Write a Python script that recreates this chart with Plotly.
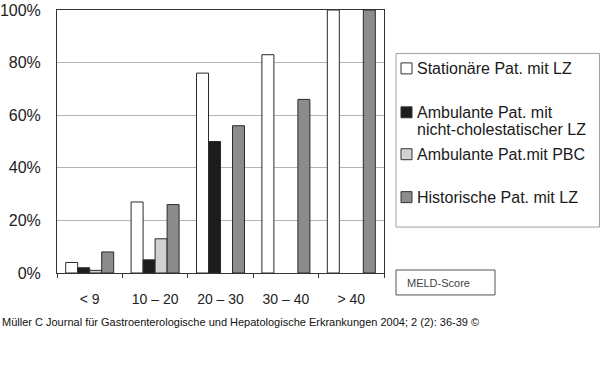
import plotly.graph_objects as go

categories = ["< 9", "10 – 20", "20 – 30", "30 – 40", "> 40"]
series_names = [
    "Stationäre Pat. mit LZ",
    "Ambulante Pat. mit\nnicht-cholestatischer LZ",
    "Ambulante Pat.mit PBC",
    "Historische Pat. mit LZ",
]
stationaer = [4, 27, 76, 83, 100]
ambulant_nc = [2, 5, 50, None, None]
ambulant_pbc = [1, 13, None, None, None]
historisch = [8, 26, 56, 66, 100]
series_values = [stationaer, ambulant_nc, ambulant_pbc, historisch]
colors = ["#ffffff", "#1c1c1c", "#d2d2d2", "#8c8c8c"]
y_ticks = [0, 20, 40, 60, 80, 100]
footer = "Müller C Journal für Gastroenterologische und Hepatologische Erkrankungen 2004; 2 (2): 36-39 ©"
axis_title = "MELD-Score"

W, H = 600, 369
L, R, T, B = 57, 384, 9.5, 273
FONT = "Liberation Sans, Arial, sans-serif"


def px(x):
    return (x - L) / (R - L)


def py(y):
    return (B - y) / (B - T)


fig = go.Figure()
for name, vals, col in zip(series_names, series_values, colors):
    fig.add_trace(go.Bar(
        x=categories, y=vals, name=name.replace("\n", " "),
        marker=dict(color=col, line=dict(color="#2a2a2a", width=1)),
        showlegend=False,
    ))

shapes = []
annotations = []

# legend box
shapes.append(dict(type="rect", xref="paper", yref="paper",
                   x0=px(396), x1=px(599.5), y0=py(53), y1=py(227),
                   line=dict(color="#a0a0a0", width=1), fillcolor="white", layer="below"))
item_y = [68, 112, 154, 197]
for name, col, yc in zip(series_names, colors, item_y):
    shapes.append(dict(type="rect", xref="paper", yref="paper",
                       x0=px(401), x1=px(412), y0=py(yc - 5.5), y1=py(yc + 5.5),
                       line=dict(color="#333333", width=1), fillcolor=col))
    for i, line in enumerate(name.split("\n")):
        annotations.append(dict(xref="paper", yref="paper", x=px(415), y=py(yc + i * 17),
                                xanchor="left", yanchor="middle", showarrow=False,
                                text=line, font=dict(family=FONT, size=16, color="#1a1a1a")))

# MELD-Score box
shapes.append(dict(type="rect", xref="paper", yref="paper",
                   x0=px(396), x1=px(495), y0=py(270), y1=py(295),
                   line=dict(color="#555555", width=1), fillcolor="white"))
annotations.append(dict(xref="paper", yref="paper", x=px(405), y=py(283),
                        xanchor="left", yanchor="middle", showarrow=False,
                        text=axis_title, font=dict(family=FONT, size=11, color="#444444")))

# footer
annotations.append(dict(xref="paper", yref="paper", x=px(0), y=py(322),
                        xanchor="left", yanchor="middle", showarrow=False,
                        text=footer, font=dict(family=FONT, size=11, color="#111111")))

fig.update_layout(
    width=W, height=H,
    margin=dict(l=L, r=W - R, t=T, b=H - B, pad=0, autoexpand=False),
    paper_bgcolor="white", plot_bgcolor="white",
    barmode="group", bargap=0.266, bargroupgap=0,
    shapes=shapes, annotations=annotations,
    font=dict(family=FONT, color="#222222"),
)
fig.update_xaxes(
    type="category", tickson="boundaries", ticks="outside", ticklen=4,
    tickcolor="#333333", showline=True, mirror=True, linecolor="#333333", linewidth=1,
    showgrid=False, tickfont=dict(size=14, color="#222222"), ticklabelstandoff=13,
    automargin=False,
)
fig.update_yaxes(
    range=[0, 100], tickvals=y_ticks, ticktext=[f"{v}%" for v in y_ticks],
    showline=True, mirror=True, linecolor="#333333", linewidth=1,
    showgrid=True, gridcolor="#b4b4b4", gridwidth=1, zeroline=False,
    tickfont=dict(size=16, color="#222222"), ticks="", ticklabelstandoff=12,
    automargin=False,
)

fig.write_html("out.html")
